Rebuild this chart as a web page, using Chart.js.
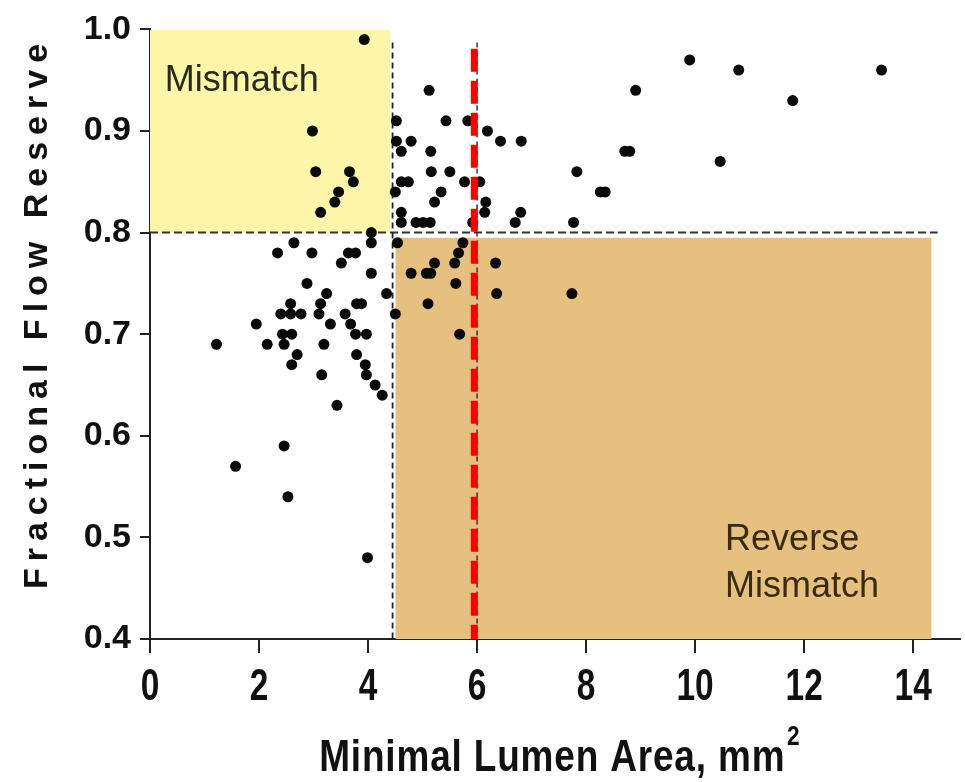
<!DOCTYPE html>
<html>
<head>
  <title>FFR vs Minimal Lumen Area</title>
  <script src="https://cdn.jsdelivr.net/npm/chart.js"></script>
  <style>
    html, body { margin: 0; padding: 0; background: #ffffff; }
    #chart { display: block; }
  </style>
</head>
<body>
  <canvas id="chart" width="965" height="782"></canvas>

  <script>
    // Minimal lumen area (mm2) and fractional flow reserve, one pair per lesion
    var mlaValues = [
      3.93, 2.98, 3.04, 3.66, 3.73, 3.46, 3.39, 3.13, 4.06,
      5.12, 4.52, 5.43, 5.83, 6.19, 6.43, 6.81, 4.52, 4.79, 4.61, 5.15, 5.16, 5.50, 4.61, 4.74, 5.77,
      6.05, 4.50, 5.34, 5.22, 6.16, 6.14, 6.80, 6.70, 4.61, 4.61, 4.88, 5.01, 5.14, 5.92,
      9.90, 10.80, 13.42, 8.91, 11.79, 8.71, 8.80, 10.46, 7.83, 8.26, 8.35, 7.77,
      4.06, 2.64, 2.34, 2.97, 3.64, 3.77, 3.51, 4.06, 2.88, 3.24, 4.34, 3.13, 3.10, 2.58, 2.40, 2.58,
      2.77, 3.79, 3.88, 1.95, 3.31, 3.58, 3.68, 3.77, 2.43, 2.60, 3.97, 1.22, 2.15, 2.46, 3.19, 2.70,
      3.79, 2.60, 3.95, 3.97, 3.15, 4.13, 4.26, 3.43, 2.46, 1.57, 2.53, 3.99,
      4.54, 5.74, 5.66, 5.59, 5.22, 4.79, 5.07, 5.15, 5.61, 5.10, 4.50, 5.68, 6.34, 6.36, 7.74
    ];
    var ffrValues = [
      0.99, 0.90, 0.86, 0.86, 0.85, 0.84, 0.83, 0.82, 0.80,
      0.94, 0.91, 0.91, 0.91, 0.90, 0.89, 0.89, 0.89, 0.89, 0.88, 0.88, 0.86, 0.86, 0.85, 0.85, 0.85,
      0.85, 0.84, 0.84, 0.83, 0.83, 0.82, 0.82, 0.81, 0.82, 0.81, 0.81, 0.81, 0.81, 0.81,
      0.97, 0.96, 0.96, 0.94, 0.93, 0.88, 0.88, 0.87, 0.86, 0.84, 0.84, 0.81,
      0.79, 0.79, 0.78, 0.78, 0.78, 0.78, 0.77, 0.76, 0.75, 0.74, 0.74, 0.73, 0.72, 0.73, 0.72, 0.72,
      0.72, 0.73, 0.73, 0.71, 0.71, 0.72, 0.71, 0.70, 0.70, 0.70, 0.70, 0.69, 0.69, 0.69, 0.69, 0.68,
      0.68, 0.67, 0.67, 0.66, 0.66, 0.65, 0.64, 0.63, 0.59, 0.57, 0.54, 0.48,
      0.79, 0.79, 0.78, 0.77, 0.77, 0.76, 0.76, 0.76, 0.75, 0.73, 0.72, 0.70, 0.77, 0.74, 0.74
    ];

    // Axis ticks
    var xTicks = [0, 2, 4, 6, 8, 10, 12, 14];
    var yTicks = [0.4, 0.5, 0.6, 0.7, 0.8, 0.9, 1.0];

    // Shaded zones: [x from, x to, y from, y to]
    var mismatchZone = [0, 4.41, 0.8, 1.0];
    var reverseZone = [4.5, 14.34, 0.4, 0.795];

    // Cut-off lines
    var mlaCutoff = 4.45;     // thin black dashed line
    var ffrCutoff = 0.8;      // horizontal black dashed line
    var redCutoff = 5.95;     // thick red dashed line

    var points = mlaValues.map(function(x, i) { return { x: x, y: ffrValues[i] }; });

    function zone(z, color) {
      return {
        type: 'line',
        data: [{ x: z[0], y: z[3] }, { x: z[1], y: z[3] }],
        showLine: true,
        borderWidth: 0,
        pointRadius: 0,
        backgroundColor: color,
        fill: { value: z[2] },
        order: 10
      };
    }

    var FONT = '"Liberation Sans", Arial, sans-serif';

    // Titles, condensed x tick labels and zone labels drawn on the canvas
    var textPlugin = {
      id: 'texts',
      afterDraw: function(chart) {
        var ctx = chart.ctx;
        var xs = chart.scales.x, ys = chart.scales.y;

        ctx.save();
        ctx.fillStyle = '#2a2a1a';
        ctx.font = '36px ' + FONT;
        ctx.textBaseline = 'alphabetic';
        ctx.textAlign = 'left';
        ctx.fillText('Mismatch', xs.getPixelForValue(0.27), ys.getPixelForValue(0.939));
        ctx.fillStyle = '#3a2a10';
        ctx.fillText('Reverse', xs.getPixelForValue(10.55), ys.getPixelForValue(0.488));
        ctx.fillText('Mismatch', xs.getPixelForValue(10.55), ys.getPixelForValue(0.441));
        ctx.restore();

        // x tick labels, condensed
        ctx.save();
        ctx.fillStyle = '#111';
        ctx.font = 'bold 44px ' + FONT;
        ctx.textAlign = 'center';
        ctx.textBaseline = 'alphabetic';
        xTicks.forEach(function(v) {
          ctx.save();
          ctx.translate(xs.getPixelForValue(v), 700);
          ctx.scale(0.76, 1);
          ctx.fillText(String(v), 0, 0);
          ctx.restore();
        });
        ctx.restore();

        // y axis title
        ctx.save();
        ctx.fillStyle = '#111';
        ctx.translate(38, 313);
        ctx.rotate(-Math.PI / 2);
        ctx.font = 'bold 34px ' + FONT;
        ctx.letterSpacing = '7px';
        ctx.textAlign = 'center';
        ctx.textBaseline = 'middle';
        ctx.fillText('Fractional Flow Reserve', 0, 0);
        ctx.restore();

        // x axis title with superscript, condensed
        ctx.save();
        ctx.fillStyle = '#111';
        var sx = 0.84;
        var main = 'Minimal Lumen Area, mm';
        ctx.font = 'bold 44px ' + FONT;
        ctx.letterSpacing = '1px';
        var w1 = ctx.measureText(main).width * sx;
        ctx.font = 'bold 27px ' + FONT;
        var w2 = ctx.measureText('2').width * sx;
        var startX = 559 - (w1 + w2) / 2;
        ctx.translate(startX, 771);
        ctx.scale(sx, 1);
        ctx.textAlign = 'left';
        ctx.textBaseline = 'alphabetic';
        ctx.font = 'bold 44px ' + FONT;
        ctx.fillText(main, 0, 0);
        ctx.font = 'bold 27px ' + FONT;
        ctx.fillText('2', w1 / sx + 2, -26);
        ctx.restore();
      }
    };

    var chart = new Chart(document.getElementById('chart'), {
      type: 'scatter',
      data: {
        datasets: [
          {
            label: 'Lesions',
            data: points,
            pointRadius: 5.5,
            pointHoverRadius: 5.5,
            pointBackgroundColor: '#0a0a0a',
            pointBorderWidth: 0,
            clip: false,
            order: 2
          },
          {
            type: 'line',
            data: [{ x: redCutoff, y: 0.981 }, { x: redCutoff, y: 0.4 }],
            showLine: true,
            borderColor: '#ff0000',
            borderWidth: 7,
            borderDash: [23, 9],
            pointRadius: 0,
            order: 0
          },
          {
            type: 'line',
            data: [{ x: 6.0, y: 0.987 }, { x: 6.0, y: 0.4 }],
            showLine: true,
            borderColor: '#333',
            borderWidth: 1.5,
            borderDash: [5, 4],
            pointRadius: 0,
            order: 1
          },
          {
            type: 'line',
            data: [{ x: mlaCutoff, y: 0.987 }, { x: mlaCutoff, y: 0.4 }],
            showLine: true,
            borderColor: '#222',
            borderWidth: 1.8,
            borderDash: [6, 4],
            pointRadius: 0,
            order: 3
          },
          {
            type: 'line',
            data: [{ x: 0, y: ffrCutoff }, { x: 14.45, y: ffrCutoff }],
            showLine: true,
            borderColor: '#333',
            borderWidth: 2,
            borderDash: [8, 4],
            pointRadius: 0,
            order: 3
          },
          zone(mismatchZone, '#fdf5a8'),
          zone(reverseZone, '#e5c07e')
        ]
      },
      options: {
        responsive: false,
        animation: false,
        events: [],
        layout: { padding: { top: 25, right: 0, left: 0, bottom: 0 } },
        plugins: {
          legend: { display: false },
          tooltip: { enabled: false }
        },
        scales: {
          x: {
            type: 'linear',
            min: 0,
            max: 14.85,
            afterFit: function(scale) { scale.height = 143; },
            afterBuildTicks: function(scale) {
              scale.ticks = xTicks.map(function(v) { return { value: v }; });
            },
            border: { display: true, color: '#222', width: 2 },
            grid: { drawOnChartArea: false, drawTicks: true, tickLength: 14, color: '#222', lineWidth: 2 },
            ticks: { display: false }
          },
          y: {
            type: 'linear',
            min: 0.4,
            max: 1.0,
            afterFit: function(scale) { scale.width = 150; },
            afterBuildTicks: function(scale) {
              scale.ticks = yTicks.map(function(v) { return { value: v }; });
            },
            border: { display: true, color: '#222', width: 2 },
            grid: { drawOnChartArea: false, drawTicks: true, tickLength: 10, color: '#222', lineWidth: 2 },
            ticks: {
              color: '#111',
              padding: 9,
              font: { family: FONT, size: 34, weight: 'bold' },
              callback: function(v) { return Number(v).toFixed(1); }
            }
          }
        }
      },
      plugins: [textPlugin]
    });
  </script>
</body>
</html>
